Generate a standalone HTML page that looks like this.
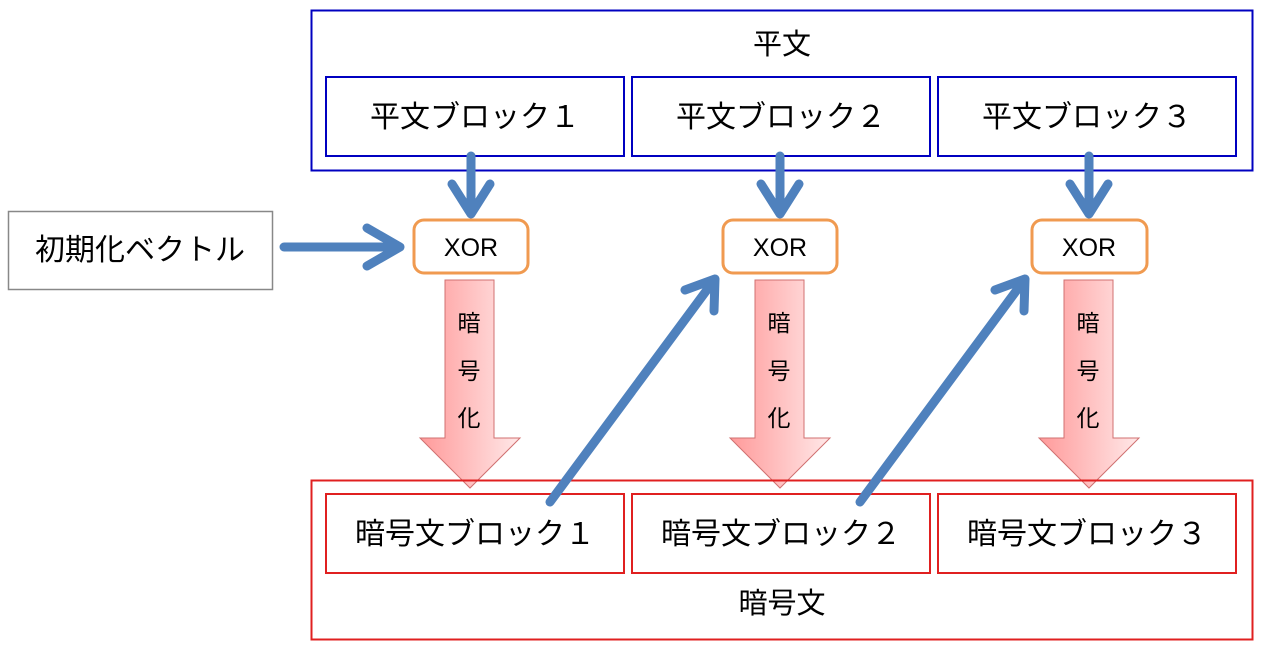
<!DOCTYPE html>
<html><head><meta charset="utf-8"><style>
body{margin:0;background:#fff;}
svg text{font-family:"Liberation Sans","Noto Sans CJK JP",sans-serif;fill:#000;}
</style></head><body>
<svg width="1266" height="649" xmlns="http://www.w3.org/2000/svg">
<defs>
<linearGradient id="g" x1="0" x2="1" y1="0" y2="0">
<stop offset="0" stop-color="#ff9a9a"/><stop offset="1" stop-color="#ffe8e8"/>
</linearGradient>
</defs>
<rect x="311.5" y="10.5" width="941" height="160" fill="none" stroke="#0000c0" stroke-width="2"/>
<text x="782" y="54" font-size="29" text-anchor="middle">平文</text>
<g fill="#fff" stroke="#0000c0" stroke-width="2">
<rect x="326" y="77" width="298" height="79"/>
<rect x="632" y="77" width="298" height="79"/>
<rect x="938" y="77" width="298" height="79"/>
</g>
<g font-size="30" text-anchor="middle">
<text x="475" y="127">平文ブロック１</text>
<text x="781" y="127">平文ブロック２</text>
<text x="1087" y="127">平文ブロック３</text>
</g>
<rect x="8.5" y="211.5" width="264" height="78" fill="#fff" stroke="#888" stroke-width="1.5"/>
<text x="140" y="260" font-size="30" text-anchor="middle">初期化ベクトル</text>
<g fill="#fff" stroke="#f09a50" stroke-width="3">
<rect x="414" y="220" width="114" height="53" rx="10"/>
<rect x="723" y="220" width="114" height="53" rx="10"/>
<rect x="1032" y="220" width="115" height="53" rx="10"/>
</g>
<g font-size="25" text-anchor="middle">
<text x="471" y="256">XOR</text>
<text x="780" y="256">XOR</text>
<text x="1089" y="256">XOR</text>
</g>
<g fill="url(#g)" stroke="#d07070" stroke-width="1">
<path d="M445,280H494V438H520L470,488L420,438H445Z"/>
<path d="M755,280H804V438H830L780,488L730,438H755Z"/>
<path d="M1064,280H1113V438H1139L1089,488L1039,438H1064Z"/>
</g>
<g font-size="23" text-anchor="middle">
<text x="469" y="331">暗</text><text x="469" y="379">号</text><text x="469" y="426">化</text>
<text x="779" y="331">暗</text><text x="779" y="379">号</text><text x="779" y="426">化</text>
<text x="1088" y="331">暗</text><text x="1088" y="379">号</text><text x="1088" y="426">化</text>
</g>
<rect x="311.5" y="480.5" width="941" height="159" fill="none" stroke="#e02020" stroke-width="2"/>
<g fill="#fff" stroke="#e02020" stroke-width="2">
<rect x="326" y="494" width="298" height="79"/>
<rect x="632" y="494" width="298" height="79"/>
<rect x="938" y="494" width="298" height="79"/>
</g>
<g font-size="30" text-anchor="middle">
<text x="475" y="544">暗号文ブロック１</text>
<text x="781" y="544">暗号文ブロック２</text>
<text x="1087" y="544">暗号文ブロック３</text>
</g>
<text x="782" y="613" font-size="29" text-anchor="middle">暗号文</text>
<g stroke="#4f81bd" stroke-width="9" stroke-linecap="round" stroke-linejoin="round" fill="none">
<path d="M471,156V214M452,184L471,214L490,184"/>
<path d="M780,156V214M761,184L780,214L799,184"/>
<path d="M1089,156V214M1070,184L1089,214L1108,184"/>
<path d="M284,247H400M367,228L400,247L367,266"/>
<path d="M550,502L715,279M685,290L715,279L714,311"/>
<path d="M860,502L1025,279M995,290L1025,279L1024,311"/>
</g>
</svg>
</body></html>
